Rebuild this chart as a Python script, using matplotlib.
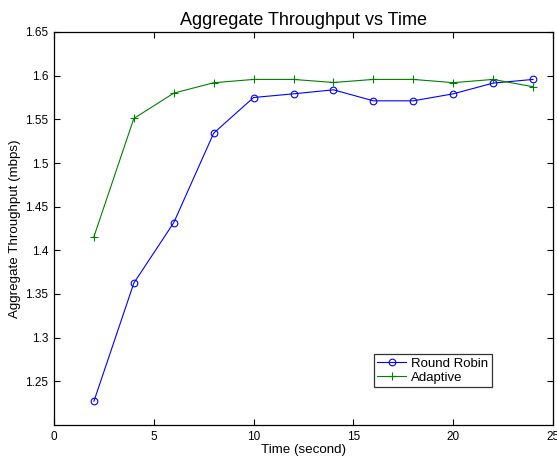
import matplotlib
matplotlib.use("Agg")
import matplotlib.pyplot as plt

plt.rcParams['font.family'] = ['Liberation Sans', 'DejaVu Sans']

tiempo = [2, 4, 6, 8, 10, 12, 14, 16, 18, 20, 22, 24]
round_robin = [1.2272, 1.3625, 1.4317, 1.5342, 1.5750, 1.5792, 1.5838,
               1.5712, 1.5712, 1.5792, 1.5915, 1.5957]
adaptive = [1.4156, 1.5510, 1.5800, 1.5919, 1.5957, 1.5957, 1.5922,
            1.5957, 1.5957, 1.5920, 1.5957, 1.5873]

fig = plt.figure(figsize=(5.57, 4.57), dpi=100)
ax = fig.add_axes([54 / 557, 32 / 457, 499 / 557, 393 / 457])

ax.plot(tiempo, round_robin, color='blue', marker='o', markersize=4.8,
        markerfacecolor='none', markeredgecolor='blue', linewidth=0.8,
        markeredgewidth=0.8, label='Round Robin')
ax.plot(tiempo, adaptive, color='green', marker='+', markersize=6,
        linewidth=0.8, markeredgewidth=0.8, label='Adaptive')

ax.set_xlim(0, 25)
ax.set_ylim(1.2, 1.65)
ax.set_xticks([0, 5, 10, 15, 20, 25])
ax.set_yticks([1.25, 1.3, 1.35, 1.4, 1.45, 1.5, 1.55, 1.6, 1.65])
ax.set_yticklabels(['1.25', '1.3', '1.35', '1.4', '1.45', '1.5', '1.55', '1.6', '1.65'])
ax.tick_params(direction='in', top=True, right=True, labelsize=8.5, length=4,
               pad=4)
for s in ax.spines.values():
    s.set_linewidth(0.9)

ax.set_title('Aggregate Throughput vs Time', fontsize=13, pad=5)
ax.set_xlabel('Time (second)', fontsize=9.6, labelpad=1)
ax.set_ylabel('Aggregate Throughput (mbps)', fontsize=9.6, labelpad=3)

leg = ax.legend(loc='lower left', bbox_to_anchor=(0.641, 0.097), fontsize=9.5,
                frameon=True, fancybox=False, edgecolor='black',
                borderpad=0.25, labelspacing=0.1, handlelength=2.2,
                handletextpad=0.4, borderaxespad=0)
leg.get_frame().set_linewidth(0.9)

fig.savefig('out.png', dpi=100)
